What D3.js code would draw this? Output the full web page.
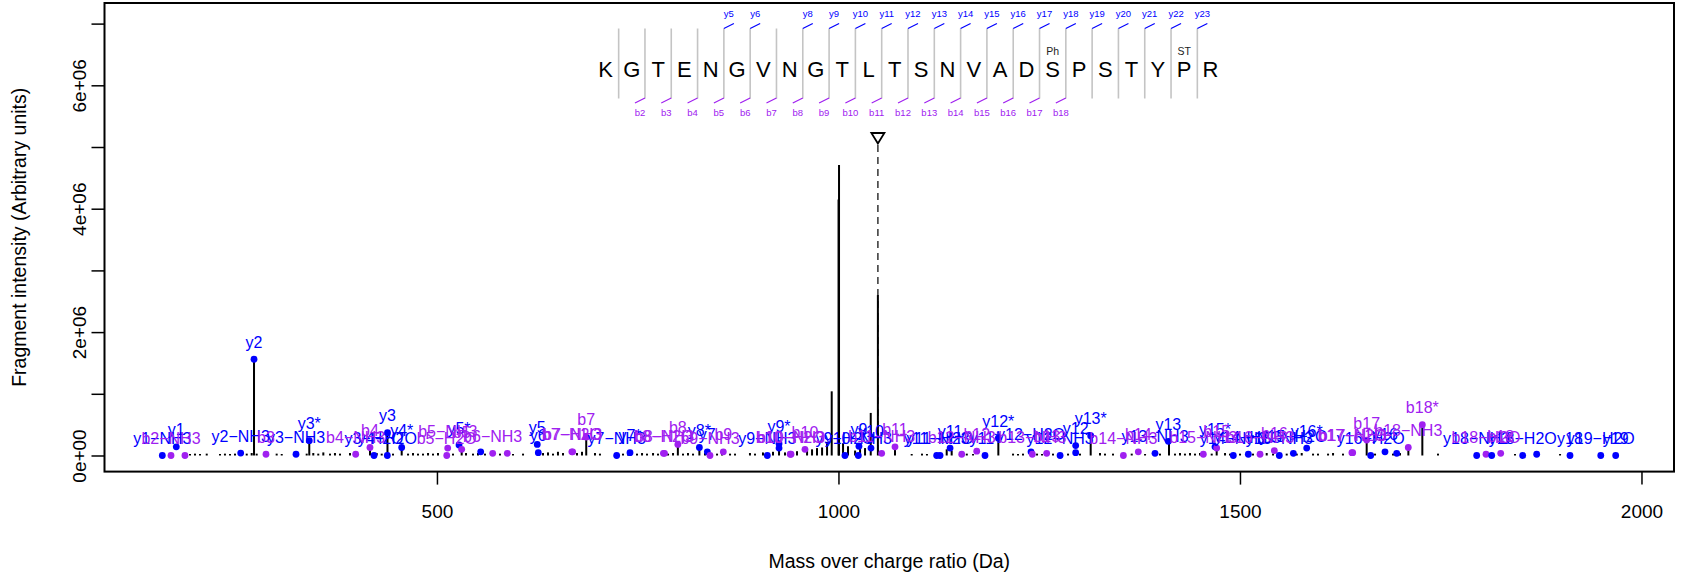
<!DOCTYPE html>
<html><head><meta charset="utf-8">
<script src="https://cdn.jsdelivr.net/npm/d3@7"></script>
<style>
body{margin:0;background:#fff}
svg{display:block}
text{font-family:"Liberation Sans",Arial,Helvetica,sans-serif}
</style>
</head><body>
<svg id="chart" width="1692" height="575"></svg>
<script>
// ---------------- data ----------------
const peptide = "KGTENGVNGTLTSNVADSPSTYPR".split("");
const yIonSites = [5,6,8,9,10,11,12,13,14,15,16,17,18,19,20,21,22,23];
const bIonSites = [2,3,4,5,6,7,8,9,10,11,12,13,14,15,16,17,18];
const modSites = [18,23];
const modNames = ["Ph","ST"];

const xTicks = [500,1000,1500,2000];
const yTicks = [0,1e6,2e6,3e6,4e6,5e6,6e6,7e6];
const yTickLabels = ["0e+00","","2e+06","","4e+06","","6e+06",""];

const precursorMz = 1049.1;

// spectrum peaks (m/z in Da, intensity in millions)
const peakMz = [192.5,198.7,204.9,213.3,229.8,236.0,242.3,248.5,263.1,269.3,272.2,275.5,300.4,306.7,337.8,341.0,346.0,352.2,358.5,366.8,373.0,379.3,391.7,397.9,416.6,425.0,431.2,438.4,445.3,456.1,464.0,470.2,476.4,482.6,488.9,495.1,501.3,520.0,530.8,536.2,544.9,551.1,559.8,578.5,594.7,607.2,632.1,638.3,644.5,650.7,657.0,674.4,680.6,685.9,696.8,703.0,731.7,737.9,749.1,755.4,761.6,769.1,775.3,787.8,794.0,800.0,806.4,812.6,818.9,826.8,833.8,848.8,855.0,865.0,871.2,889.8,896.1,906.0,918.5,926.0,933.4,939.7,948.4,960.9,967.1,973.3,979.6,985.8,991.6,1000.1,1000.7,1005.7,1011.9,1020.7,1026.9,1033.1,1040.2,1049.1,1055.6,1070.4,1091.2,1104.0,1110.2,1134.8,1141.0,1159.8,1167.6,1199.1,1217.4,1223.6,1229.8,1247.3,1253.5,1267.2,1285.9,1300.8,1314.1,1325.7,1331.9,1341.9,1365.2,1381.8,1400.4,1411.6,1419.1,1425.3,1431.5,1437.8,1444.0,1450.2,1464.8,1471.0,1481.4,1487.6,1500.1,1516.2,1533.3,1541.2,1558.2,1570.7,1576.9,1591.0,1597.2,1609.7,1615.9,1628.3,1657.8,1668.2,1690.6,1699.3,1709.7,1727.1,1746.6,1842.5,1898.6];
const peakIntM = [0.02,0.03,0.02,0.03,0.02,0.03,0.02,0.03,0.03,0.04,1.56,0.03,0.03,0.02,0.03,0.24,0.04,0.03,0.05,0.03,0.04,0.03,0.04,0.03,0.13,0.04,0.03,0.37,0.03,0.13,0.03,0.04,0.03,0.03,0.04,0.03,0.04,0.03,0.08,0.04,0.03,0.04,0.03,0.03,0.02,0.03,0.04,0.05,0.03,0.06,0.04,0.04,0.06,0.30,0.04,0.03,0.03,0.04,0.03,0.04,0.03,0.04,0.03,0.03,0.04,0.18,0.03,0.04,0.03,0.13,0.04,0.03,0.05,0.03,0.03,0.04,0.03,0.05,0.06,0.19,0.05,0.06,0.07,0.09,0.10,0.12,0.13,0.22,1.04,4.15,4.71,0.20,0.15,0.08,0.15,0.12,0.69,2.60,0.05,0.16,0.02,0.03,0.02,0.10,0.08,0.03,0.02,0.28,0.03,0.02,0.03,0.03,0.02,0.03,0.03,0.03,0.32,0.04,0.03,0.03,0.03,0.02,0.03,0.23,0.03,0.04,0.03,0.04,0.03,0.04,0.03,0.14,0.04,0.03,0.03,0.03,0.04,0.03,0.03,0.03,0.04,0.03,0.03,0.03,0.04,0.03,0.25,0.03,0.03,0.04,0.10,0.50,0.03,0.02,0.02];

// matched fragment ions
const ionLabel = ["y1−NH3","b2−NH3","y1","","y2−NH3","y2","b3","y3−NH3","y3*","b4−NH3","b4","y3−H2O","y4−H2O","y3","y4*","b5−H2O","b5−NH3","y5*","b5","","b6−NH3","","y5","y6","b7−H2O","b7−NH3","b7","y7−NH3","y7*","b8−H2O","b8−NH3","b8","y8*","y7","b9−NH3","b9","y9−NH3","y9*","","b10−H2O","b10−NH3","b10","y9−H2O","y10−NH3","y9","y10","b11−NH3","b11","y11−NH3","y11−H2O","y11","b12−NH3","b12","y11*","y12*","y12−H2O","b13−NH3","b13","y12−NH3","","y12","y13*","b14−NH3","b14","y13−NH3","y13","b15−NH3","y15*","b15","y14−NH3","y14−H2O","b16−NH3","b16","y15−NH3","y15−H2O","y16*","b17−H2O","b17−NH3","b17","y16−H2O","y16","","b18−NH3","b18*","y18−NH3","b18−H2O","","b18","y18−H2O","","y18","y19−H2O","y19"];
const ionType = ["y","b","y","b","y","y","b","y","y","b","b","y","y","y","y","b","b","y","b","y","b","b","y","y","b","b","b","y","y","b","b","b","y","y","b","b","y","y","y","b","b","b","y","y","y","y","b","b","y","y","y","b","b","y","y","y","b","b","y","y","y","y","b","b","y","y","b","y","b","y","y","b","b","y","y","y","b","b","b","y","y","y","b","b","y","b","y","b","y","y","y","y","y"];
const ionMz = [158.0,168.8,175.4,186.2,255.6,272.2,287.1,324.5,341.0,398.8,416.6,421.6,438.2,438.4,456.1,512.2,513.4,527.5,530.8,554.5,569.4,587.6,624.9,626.2,668.0,669.0,685.9,723.8,740.4,782.0,783.4,800.0,826.8,836.7,840.0,856.6,911.4,926.0,926.0,939.9,940.9,958.3,1008.1,1024.7,1025.5,1040.5,1053.8,1070.4,1122.3,1126.5,1139.0,1153.5,1172.2,1182.5,1199.1,1239.8,1241.4,1259.3,1276.0,1295.4,1295.4,1314.1,1354.8,1373.4,1394.2,1410.8,1454.4,1468.9,1471.0,1491.7,1510.4,1525.0,1542.8,1549.0,1566.5,1583.1,1639.4,1640.4,1657.8,1662.8,1680.6,1695.2,1709.6,1727.1,1794.8,1806.4,1813.5,1824.7,1852.1,1869.5,1911.0,1949.3,1967.9];
const ionIntM = [0,0,0.14,0,0.04,1.56,0.02,0.02,0.24,0.02,0.13,0,0,0.37,0.13,0,0.12,0.17,0.1,0.06,0.035,0.035,0.18,0.045,0.06,0.06,0.3,0,0.045,0.035,0.035,0.18,0.13,0.06,0,0.06,0,0.19,0.12,0.02,0.02,0.1,0,0,0.15,0.12,0.035,0.14,0,0,0.12,0.02,0.07,0,0.28,0.06,0.02,0.035,0,0.045,0.16,0.32,0,0.06,0.035,0.23,0.02,0.14,0.12,0,0.02,0.02,0.08,0,0.035,0.12,0.045,0.045,0.25,0,0.06,0.035,0.13,0.5,0,0.02,0,0.035,0,0.02,0,0,0];

// ---------------- drawing ----------------
const svg = d3.select("#chart");
const M = 1e6;
const blue = "#0000FF", purple = "#A020F0";
const box = {left:104.5, right:1674, top:3, bottom:471.6};

const x = d3.scaleLinear().domain([86.0, 2040.5]).range([box.left, box.right]);
const y = d3.scaleLinear().domain([-0.261e6, 7.334e6]).range([box.bottom, box.top]);

// axes (R style, ticks outside)
const xAxis = d3.axisBottom(x).tickValues(xTicks).tickSize(13).tickPadding(20).tickFormat(d3.format("d"));
const gx = svg.append("g").attr("transform", `translate(0,${box.bottom})`).call(xAxis);
gx.select(".domain").remove();
gx.selectAll(".tick line").attr("stroke","#000").attr("stroke-width",1.5);
gx.selectAll(".tick text").attr("font-size",19).attr("fill","#000");

const yAxis = d3.axisLeft(y).tickValues(yTicks).tickSize(13).tickFormat((d,i)=>yTickLabels[i]);
const gy = svg.append("g").attr("transform", `translate(${box.left},0)`).call(yAxis);
gy.select(".domain").remove();
gy.selectAll(".tick line").attr("stroke","#000").attr("stroke-width",1.5);
gy.selectAll(".tick text").attr("font-size",19).attr("fill","#000")
  .attr("x",0).attr("dy",null)
  .attr("text-anchor","middle").attr("dominant-baseline","central")
  .attr("transform","translate(-25.5,0) rotate(-90)");

svg.append("text").attr("x",(box.left+box.right)/2).attr("y",561)
  .attr("text-anchor","middle").attr("dominant-baseline","central")
  .attr("font-size",19.5).text("Mass over charge ratio (Da)");
svg.append("text")
  .attr("transform",`translate(18.5,${(box.top+box.bottom)/2}) rotate(-90)`)
  .attr("text-anchor","middle").attr("dominant-baseline","central")
  .attr("font-size",19.5).text("Fragment intensity (Arbitrary units)");

// precursor marker
const px = x(precursorMz);
svg.append("line").attr("x1",px).attr("x2",px).attr("y1",145).attr("y2",y(0))
  .attr("stroke","#333").attr("stroke-width",1.5).attr("stroke-dasharray","7,5");
svg.append("path").attr("d",`M${px-6.5},133 L${px+6.5},133 L${px},143.5 Z`)
  .attr("fill","none").attr("stroke","#000").attr("stroke-width",1.8);

// spectrum sticks
svg.append("g").selectAll("line").data(peakMz).join("line")
  .attr("x1",d=>x(d)).attr("x2",d=>x(d))
  .attr("y1",y(0)).attr("y2",(d,i)=>Math.min(y(0)-1.5, y(peakIntM[i]*M)))
  .attr("stroke","#000").attr("stroke-width",2);

// ion dots
const ions = ionMz.map((mz,i)=>({mz, int: ionIntM[i]*M, label: ionLabel[i], type: ionType[i]}));
const col = t => t==="b" ? purple : blue;
svg.append("g").selectAll("circle").data(ions).join("circle")
  .attr("cx",d=>x(d.mz)).attr("cy",d=>y(d.int)).attr("r",3.4)
  .attr("fill",d=>col(d.type));

// ion labels: y first, b on top
const ordered = ions.filter(d=>d.type==="y").concat(ions.filter(d=>d.type==="b")).filter(d=>d.label!=="");
svg.append("g").selectAll("text").data(ordered).join("text")
  .attr("x",d=>x(d.mz)).attr("y",d=>y(d.int)-17)
  .attr("text-anchor","middle").attr("dominant-baseline","central")
  .attr("font-size",16).attr("fill",d=>col(d.type)).text(d=>d.label);

// plot frame
svg.append("rect").attr("x",box.left).attr("y",box.top)
  .attr("width",box.right-box.left).attr("height",box.bottom-box.top)
  .attr("fill","none").attr("stroke","#000").attr("stroke-width",2);

// ---------------- peptide sequence panel ----------------
const seqX = d3.scalePoint().domain(d3.range(peptide.length)).range([605.5,1210.5]);
const step = seqX.step();
const sepX = k => seqX(k-1) + step/2;   // separator after residue k (1-based)
const seqG = svg.append("g");
seqG.selectAll("line.sep").data(d3.range(1,peptide.length)).join("line")
  .attr("class","sep").attr("x1",sepX).attr("x2",sepX).attr("y1",28.5).attr("y2",98.5)
  .attr("stroke","#c4c4c4").attr("stroke-width",1.6);
seqG.selectAll("text.aa").data(peptide).join("text")
  .attr("class","aa").attr("x",(d,i)=>seqX(i)).attr("y",69.5)
  .attr("text-anchor","middle").attr("dominant-baseline","central")
  .attr("font-size",22).attr("fill","#000").text(d=>d);
// y-ion ticks
seqG.selectAll("line.yt").data(yIonSites).join("line")
  .attr("class","yt").attr("x1",sepX).attr("y1",28.5).attr("x2",k=>sepX(k)+10).attr("y2",23.5)
  .attr("stroke",blue).attr("stroke-width",1.2);
seqG.selectAll("text.yl").data(yIonSites).join("text")
  .attr("class","yl").attr("x",k=>sepX(k)+5).attr("y",13.5)
  .attr("text-anchor","middle").attr("dominant-baseline","central")
  .attr("font-size",9.5).attr("fill",blue).text(k=>"y"+k);
// b-ion ticks
seqG.selectAll("line.bt").data(bIonSites).join("line")
  .attr("class","bt").attr("x1",sepX).attr("y1",98).attr("x2",k=>sepX(k)-10).attr("y2",103)
  .attr("stroke",purple).attr("stroke-width",1.2);
seqG.selectAll("text.bl").data(bIonSites).join("text")
  .attr("class","bl").attr("x",k=>sepX(k)-5).attr("y",112)
  .attr("text-anchor","middle").attr("dominant-baseline","central")
  .attr("font-size",9.5).attr("fill",purple).text(k=>"b"+k);
// modifications
seqG.selectAll("text.mod").data(modSites).join("text")
  .attr("class","mod").attr("x",k=>seqX(k-1)).attr("y",51)
  .attr("text-anchor","middle").attr("dominant-baseline","central")
  .attr("font-size",10.5).attr("fill","#222").text((k,i)=>modNames[i]);
</script>
</body></html>
